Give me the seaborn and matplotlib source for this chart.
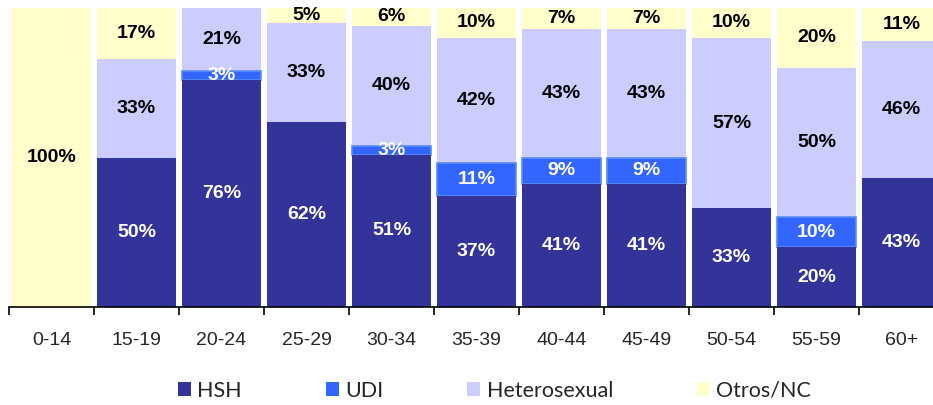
import matplotlib

matplotlib.use("Agg")
import matplotlib.pyplot as plt
import numpy as np
import pandas as pd
import seaborn as sns
from matplotlib.patches import Patch

age_groups = ["0-14", "15-19", "20-24", "25-29", "30-34", "35-39",
              "40-44", "45-49", "50-54", "55-59", "60+"]
hsh = [0, 50, 76, 62, 51, 37, 41, 41, 33, 20, 43]
udi = [0, 0, 3, 0, 3, 11, 9, 9, 0, 10, 0]
hetero = [0, 33, 21, 33, 40, 42, 43, 43, 57, 50, 46]
otros = [100, 17, 0, 5, 6, 10, 7, 7, 10, 20, 11]

series_names = ["HSH", "UDI", "Heterosexual", "Otros/NC"]
series_colors = ["#333399", "#3366FF", "#CCCCFF", "#FFFFCC"]
label_colors = ["white", "white", "black", "black"]

sns.set_style("white")
plt.rcParams["font.family"] = ["Liberation Sans", "DejaVu Sans"]

df = pd.DataFrame({"grupo": age_groups, "HSH": hsh, "UDI": udi,
                   "Heterosexual": hetero, "Otros/NC": otros})
values = df[series_names].to_numpy()
cumulative = values.cumsum(axis=1)

fig = plt.figure(figsize=(9.33, 4.05), dpi=100)
ax = fig.add_axes([9 / 933, 98 / 405, 935 / 933, 299 / 405])

# overlay cumulative totals, tallest first
for i in range(len(series_names) - 1, -1, -1):
    sns.barplot(x=df["grupo"], y=cumulative[:, i], color=series_colors[i],
                width=0.92, saturation=1, linewidth=0, ax=ax)

# trim the UDI bars to their own segment and give them a light edge
n = len(age_groups)
udi_patches = ax.patches[2 * n:3 * n]
for patch, low, value in zip(udi_patches, hsh, udi):
    patch.set_y(low)
    patch.set_height(value)
    if value > 0:
        patch.set_edgecolor("#5B8DEF")
        patch.set_linewidth(1.2)

for col in range(len(series_names)):
    for row, value in enumerate(values[:, col]):
        if value <= 0:
            continue
        center = cumulative[row, col] - value / 2
        ax.text(row, center, "{0}%".format(value), ha="center", va="center",
                fontsize=14, fontweight="bold", color=label_colors[col])

ax.set_ylim(0, 100)
ax.set_xlim(-0.5, n - 0.5)
ax.set_xlabel("")
ax.set_ylabel("")
ax.set_yticks([])
for side in ["left", "right", "top"]:
    ax.spines[side].set_visible(False)
ax.spines["bottom"].set_color("black")
ax.spines["bottom"].set_linewidth(1.2)

ax.set_xticks(np.arange(n))
ax.set_xticklabels(age_groups, fontsize=14)
ax.set_xticks(np.arange(n + 1) - 0.5, minor=True)
ax.tick_params(axis="x", which="major", length=0, pad=18)
ax.tick_params(axis="x", which="minor", length=6, width=1.2, direction="out",
               color="black", bottom=True)

handles = [Patch(facecolor=c, edgecolor="none") for c in series_colors]
fig.legend(handles, series_names, loc="center", bbox_to_anchor=(0.53, 0.035),
           ncol=4, frameon=False, handlelength=0.6, handleheight=0.6,
           handletextpad=0.3, columnspacing=3.9,
           prop={"family": "Lato", "size": 15.5})

fig.savefig("out.png", dpi=100)
